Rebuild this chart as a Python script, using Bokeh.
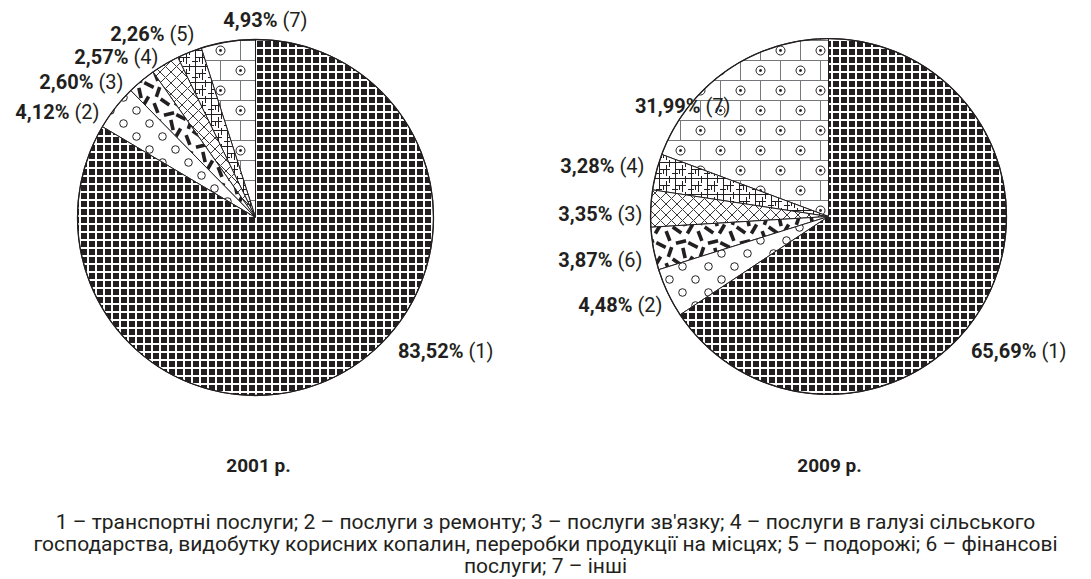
import numpy as np
from bokeh.plotting import figure
from bokeh.models import Range1d, CanvasTexture
from bokeh.core.properties import value
from bokeh.embed import file_html
from bokeh.resources import INLINE

# ---------------- data ----------------
categories_2001 = ["7", "5", "4", "3", "2", "1"]
values_2001 = [4.93, 2.26, 2.57, 2.60, 4.12, 83.52]

categories_2009 = ["7", "4", "3", "6", "2", "1"]
values_2009 = [31.99, 3.28, 3.35, 3.87, 4.48, 65.69]
# share of the circle that each 2009 slice occupies as drawn in the picture
drawn_2009 = [19.33, 3.28, 3.35, 3.87, 4.48, 65.69]

years = ["2001 р.", "2009 р."]
caption_lines = [
    "1 – транспортні послуги; 2 – послуги з ремонту; 3 – послуги зв'язку; 4 – послуги в галузі сільського",
    "господарства, видобутку корисних копалин, переробки продукції на місцях; 5 – подорожі; 6 – фінансові",
    "послуги; 7 – інші",
]

# ---------------- layout / style ----------------
W, H = 1091, 579
INK = "#231f20"
FONT = "Roboto"

def px(x):
    return x

def py(y):
    return H - y

def tex(size, body):
    head = ("const S = %d; ctx.canvas.width = S; ctx.canvas.height = S;\n"
            "const offs = [[-S,-S],[-S,0],[-S,S],[0,-S],[0,0],[0,S],[S,-S],[S,0],[S,S]];\n") % size
    return head + body

BRICK = tex(40, """
ctx.strokeStyle = "#77787b"; ctx.lineWidth = 1;
ctx.beginPath();
ctx.moveTo(0, 0.5); ctx.lineTo(40, 0.5);
ctx.moveTo(0, 20.5); ctx.lineTo(40, 20.5);
ctx.moveTo(0.5, 0); ctx.lineTo(0.5, 20.5);
ctx.moveTo(20.5, 20.5); ctx.lineTo(20.5, 40);
ctx.stroke();
ctx.strokeStyle = "#231f20"; ctx.fillStyle = "#231f20";
const pts = [[20.5, 10.5], [0.5, 30.5], [40.5, 30.5]];
for (const p of pts) {
  ctx.beginPath(); ctx.arc(p[0], p[1], 4.5, 0, 2*Math.PI); ctx.stroke();
  ctx.beginPath(); ctx.arc(p[0], p[1], 1.4, 0, 2*Math.PI); ctx.fill();
}
""")

GRID = tex(16, """
ctx.strokeStyle = "#231f20"; ctx.lineWidth = 1;
ctx.beginPath();
ctx.moveTo(0, 2.5); ctx.lineTo(16, 2.5);
ctx.moveTo(3, 9.5); ctx.lineTo(14, 9.5);
ctx.moveTo(0, 13.5); ctx.lineTo(6, 13.5);
ctx.moveTo(3.5, 0); ctx.lineTo(3.5, 16);
ctx.moveTo(10.5, 5); ctx.lineTo(10.5, 16);
ctx.moveTo(13.5, 0); ctx.lineTo(13.5, 7);
ctx.moveTo(7.5, 9); ctx.lineTo(7.5, 14);
ctx.stroke();
""")

DASH = tex(32, """
ctx.strokeStyle = "#231f20"; ctx.lineWidth = 3.6; ctx.lineCap = "butt";
const d = [[5,6,0.6],[18,5,2.1],[28,12,1.2],[9,18,2.9],[21,21,0.45],[30,28,1.9],[12,29,1.35]];
for (const q of d) {
  const dx = 5.2*Math.cos(q[2]), dy = 5.2*Math.sin(q[2]);
  for (const o of offs) {
    ctx.beginPath(); ctx.moveTo(q[0]-dx+o[0], q[1]-dy+o[1]); ctx.lineTo(q[0]+dx+o[0], q[1]+dy+o[1]); ctx.stroke();
  }
}
""")

RING = tex(26, """
ctx.strokeStyle = "#231f20"; ctx.lineWidth = 1;
const c = [[6.5, 6.5], [19.5, 19.5]];
for (const q of c) { ctx.beginPath(); ctx.arc(q[0], q[1], 3.8, 0, 2*Math.PI); ctx.stroke(); }
""")

SQUARE = tex(8, """
ctx.fillStyle = "#231f20";
ctx.fillRect(1, 1, 6, 6);
""")

# pattern for each slice position (same order in both pies)
patterns = [
    ("brick", BRICK, 40),
    ("grid", GRID, 16),
    ("diagonal_cross", None, 11),
    ("dash", DASH, 32),
    ("ring_c", RING, 26),
    ("square", SQUARE, 8),
]

p = figure(width=W, height=H, x_range=Range1d(0, W), y_range=Range1d(0, H),
           output_backend="svg", toolbar_location=None, min_border=0)
p.axis.visible = False
p.grid.visible = False
p.outline_line_color = None
p.background_fill_color = "white"

R = 178
centers = [(px(255), py(217)), (px(828), py(216))]

def draw_pie(cx, cy, shares):
    shares = np.asarray(shares, dtype=float)
    frac = shares / shares.sum()
    ends = np.pi / 2 + 2 * np.pi * np.cumsum(frac)
    starts = ends - 2 * np.pi * frac
    for i, (name, code, scale) in enumerate(patterns):
        kw = dict(x=[cx], y=[cy], radius=R, start_angle=[starts[i]], end_angle=[ends[i]],
                  direction="anticlock", fill_color="white", line_color=INK, line_width=1,
                  hatch_color=INK, hatch_scale=scale)
        if code is None:
            kw.update(hatch_pattern=value(name), hatch_weight=0.9)
        else:
            kw.update(hatch_pattern=value(name), hatch_extra={name: CanvasTexture(code=code)})
        p.wedge(**kw)
    p.circle(x=[cx], y=[cy], radius=R, fill_color=None, line_color=INK, line_width=1.3)

draw_pie(*centers[0], values_2001)
draw_pie(*centers[1], drawn_2009)

def fmt(v):
    return f"{v:.2f}".replace(".", ",") + "%"

# label anchors (page px): split x, centre y
anchors_2001 = [(279, 19), (166, 33), (130, 56), (95, 81), (71, 111), (465, 350)]
anchors_2009 = [(702, 105), (616, 165), (614, 213), (614, 259), (634, 304), (1038, 350)]

def draw_labels(anchors, vals, cats):
    xs = [px(a[0]) for a in anchors]
    ys = [py(a[1]) for a in anchors]
    p.text(x=xs, y=ys, text=[fmt(v) for v in vals], text_align="right", text_baseline="middle",
           text_font=value(FONT), text_font_style="bold", text_font_size="20px", text_color=INK,
           x_offset=-2)
    p.text(x=xs, y=ys, text=[f"({c})" for c in cats], text_align="left", text_baseline="middle",
           text_font=value(FONT), text_font_size="20px", text_color=INK, x_offset=3)

draw_labels(anchors_2001, values_2001, categories_2001)
draw_labels(anchors_2009, values_2009, categories_2009)

p.text(x=[px(258), px(829)], y=[py(465), py(465)], text=years, text_align="center",
       text_baseline="middle", text_font=value(FONT), text_font_style="bold",
       text_font_size="19px", text_color=INK)

cap_y = [521, 543, 565]
p.text(x=[px(545)] * 3, y=[py(v) for v in cap_y], text=caption_lines, text_align="center",
       text_baseline="middle", text_font=value(FONT), text_font_size="21px", text_color=INK)

open("out.html", "w").write(file_html(p, INLINE))
